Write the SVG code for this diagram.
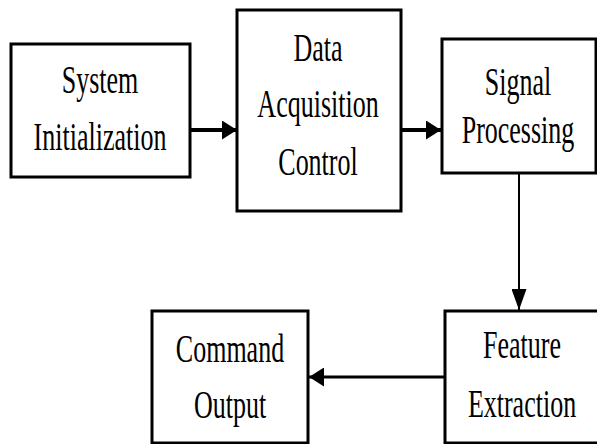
<svg xmlns="http://www.w3.org/2000/svg" width="597" height="444" viewBox="0 0 597 444">
<style>
.box{fill:#fff;stroke:#000;stroke-width:3}
.lbl{font-family:"Liberation Serif","Times New Roman",serif;font-size:40px;fill:#000;text-anchor:middle}
.conn{stroke:#000;fill:none}
</style>
<defs>
<marker id="ah" markerUnits="userSpaceOnUse" markerWidth="15" markerHeight="19" refX="15" refY="9.5" orient="auto" viewBox="0 0 15 19">
<path d="M0,0 L15,9.5 L0,19 z" fill="#000"/>
</marker>
<marker id="ahn" markerUnits="userSpaceOnUse" markerWidth="21" markerHeight="15" refX="21" refY="7.5" orient="auto" viewBox="0 0 21 15">
<path d="M0,0 L21,7.5 L0,15 z" fill="#000"/>
</marker>
</defs>
<rect width="597" height="444" fill="#fff"/>
<g id="connectors">
<line class="conn" x1="191" y1="130" x2="237" y2="130" stroke-width="4" marker-end="url(#ah)"/>
<line class="conn" x1="401" y1="130" x2="441" y2="130" stroke-width="4" marker-end="url(#ah)"/>
<line class="conn" x1="519" y1="173" x2="519" y2="310" stroke-width="2" marker-end="url(#ahn)"/>
<line class="conn" x1="445" y1="377" x2="309" y2="377" stroke-width="3" marker-end="url(#ah)"/>
</g>
<g id="system-initialization">
<rect class="box" x="11" y="44" width="179" height="133"/>
<text class="lbl" transform="translate(100,93) scale(0.65,1)">System</text>
<text class="lbl" transform="translate(100,150) scale(0.65,1)">Initialization</text>
</g>
<g id="data-acquisition-control">
<rect class="box" x="237" y="10" width="164" height="201"/>
<text class="lbl" transform="translate(318,61) scale(0.65,1)">Data</text>
<text class="lbl" transform="translate(318,117) scale(0.65,1)">Acquisition</text>
<text class="lbl" transform="translate(318,175) scale(0.65,1)">Control</text>
</g>
<g id="signal-processing">
<rect class="box" x="442" y="39" width="154" height="134"/>
<text class="lbl" transform="translate(518,95) scale(0.65,1)">Signal</text>
<text class="lbl" transform="translate(518,143) scale(0.65,1)">Processing</text>
</g>
<g id="feature-extraction">
<rect class="box" x="445" y="311" width="156" height="132"/>
<text class="lbl" transform="translate(522,358) scale(0.65,1)">Feature</text>
<text class="lbl" transform="translate(522,417) scale(0.65,1)">Extraction</text>
</g>
<g id="command-output">
<rect class="box" x="152" y="311" width="156" height="132"/>
<text class="lbl" transform="translate(230,362) scale(0.65,1)">Command</text>
<text class="lbl" transform="translate(230,418) scale(0.65,1)">Output</text>
</g>
</svg>
